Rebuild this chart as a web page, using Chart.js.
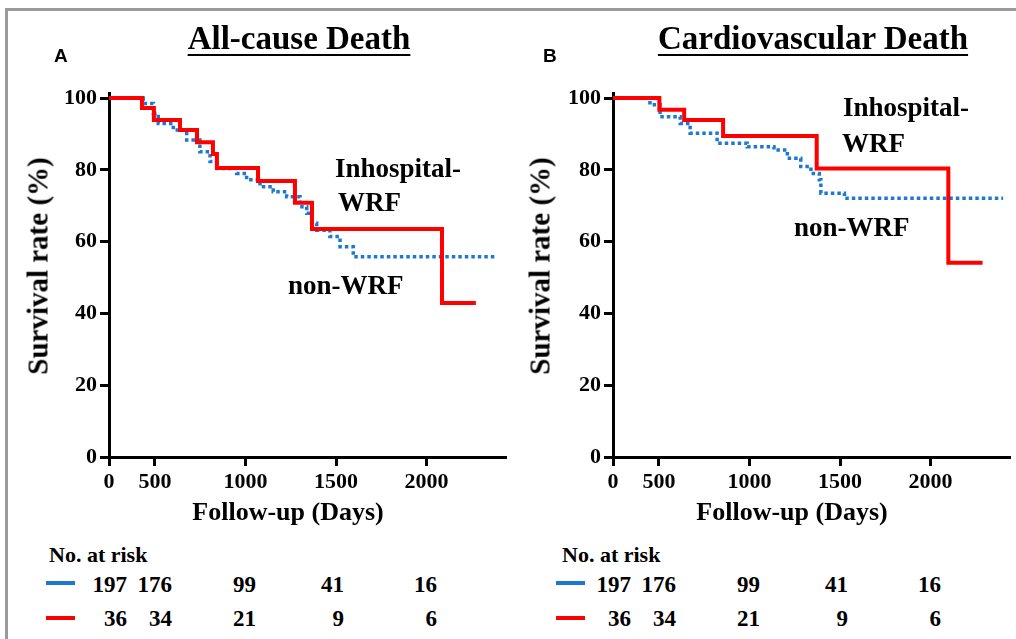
<!doctype html>
<html lang="en">
<head>
<meta charset="utf-8">
<title>All-cause and Cardiovascular Death</title>
<script src="https://cdn.jsdelivr.net/npm/chart.js"></script>
<style>
  body { margin: 0; background: #fff; }
  #page { position: relative; width: 1016px; height: 639px; overflow: hidden;
          font-family: "Liberation Serif", "Times New Roman", serif; font-weight: bold; color: #000; }
  #frame { position: absolute; left: 5px; top: 8px; right: -10px; bottom: -10px;
           border-top: 3px solid #9a9a9a; border-left: 3px solid #9a9a9a; }
  .lbl { position: absolute; white-space: nowrap; line-height: 1; }
  .mark { position: absolute; width: 29px; height: 4px; }
  canvas { position: absolute; top: 0; }
</style>
</head>
<body>
<div id="page">
  <div id="frame"></div>
  <canvas id="chartA" width="508" height="520" style="left:0"></canvas>
  <canvas id="chartB" width="508" height="520" style="left:504px"></canvas>
</div>

<script>
  // Kaplan-Meier steps (day of drop, survival % after it)
  const allRedDays  = [0, 428, 494, 638, 732, 820, 842, 1069, 1273, 1367, 2085, 2272];
  const allRedSurv  = [100, 97.2, 93.9, 91.1, 87.7, 84.4, 80.5, 76.9, 70.8, 63.5, 42.9, 42.9];
  const allBlueDays = [0, 435, 491, 518, 601, 675, 748, 804, 841, 951, 1006, 1080, 1153, 1227, 1301, 1338, 1365, 1393, 1466, 1522, 1595, 2377];
  const allBlueSurv = [100, 98.5, 95.7, 92.9, 91.1, 88.3, 85.0, 82.3, 80.4, 79.0, 77.2, 75.3, 73.9, 72.5, 69.7, 67.9, 65.1, 63.2, 61.4, 58.6, 55.8, 55.8];

  const cvRedDays  = [0, 502, 639, 854, 1371, 2098, 2287];
  const cvRedSurv  = [100, 96.7, 93.9, 89.4, 80.4, 54.1, 54.1];
  const cvBlueDays = [0, 450, 506, 617, 672, 821, 987, 1135, 1209, 1283, 1339, 1385, 1394, 1524, 2400];
  const cvBlueSurv = [100, 98.1, 94.8, 92.9, 90.2, 87.4, 86.4, 85.5, 83.2, 80.9, 79.0, 77.2, 73.5, 72.1, 72.1];

  const xTicks = [0, 500, 1000, 1500, 2000];
  const yTicks = [0, 20, 40, 60, 80, 100];

  const riskBlue = [197, 176, 99, 41, 16];
  const riskRed  = [36, 34, 21, 9, 6];

  // the axis in the figure starts a little after day 0 but labels that point "0"
  const X_MIN = 246, X_MAX = 2433;
  const RED = '#ff0000', BLUE = '#1e78d2';
  const tickFont = { family: 'Liberation Serif', size: 22, weight: 'bold' };

  function pts(days, surv) {
    return days.map((d, i) => ({ x: d, y: surv[i] }));
  }

  function makePanel(id, redDays, redSurv, blueDays, blueSurv) {
    const axisLines = { color: '#000', lineWidth: 3, drawOnChartArea: false, drawTicks: true, tickLength: 9, tickWidth: 3 };
    return new Chart(document.getElementById(id), {
      type: 'line',
      data: {
        datasets: [
          { data: pts(redDays, redSurv), borderColor: RED, borderWidth: 4, stepped: true, clip: 0, fill: false },
          { data: pts(blueDays, blueSurv), borderColor: BLUE, borderWidth: 3.5, borderDash: [3.5, 3], stepped: true, clip: 0, fill: false }
        ]
      },
      options: {
        responsive: false,
        animation: false,
        layout: { autoPadding: false, padding: { left: 0, top: 93, right: 3, bottom: 0 } },
        elements: { point: { radius: 0 } },
        plugins: { legend: { display: false }, tooltip: { enabled: false } },
        scales: {
          x: {
            type: 'linear', min: X_MIN, max: X_MAX,
            afterBuildTicks: s => { s.ticks = xTicks.map(v => ({ value: v === 0 ? X_MIN : v })); },
            afterFit: s => { s.height = 63; },
            ticks: { font: tickFont, color: '#000', padding: 3, maxRotation: 0, autoSkip: false,
                     callback: v => v === X_MIN ? '0' : String(v) },
            grid: axisLines,
            border: { color: '#000', width: 3 }
          },
          y: {
            min: 0, max: 101.4,
            afterBuildTicks: s => { s.ticks = yTicks.map(v => ({ value: v })); },
            afterFit: s => { s.width = 109; },
            ticks: { font: tickFont, color: '#000', padding: 3 },
            grid: axisLines,
            border: { color: '#000', width: 3 }
          }
        }
      }
    });
  }

  makePanel('chartA', allRedDays, allRedSurv, allBlueDays, allBlueSurv);
  makePanel('chartB', cvRedDays, cvRedSurv, cvBlueDays, cvBlueSurv);

  // text
  const page = document.getElementById('page');
  function label(text, x, base, size, align, extra) {
    const el = document.createElement('div');
    el.className = 'lbl';
    el.textContent = text;
    el.style.fontSize = size + 'px';
    el.style.top = (base - 0.8375 * size) + 'px';
    el.style.left = x + 'px';
    if (align === 'center') el.style.transform = 'translateX(-50%)';
    if (align === 'right') el.style.transform = 'translateX(-100%)';
    if (extra) Object.assign(el.style, extra);
    page.appendChild(el);
    return el;
  }
  function yTitle(cx, cy) {
    const el = label('Survival rate (%)', cx, 0, 29);
    el.style.top = cy + 'px';
    el.style.transform = 'translate(-50%, -50%) rotate(-90deg)';
  }
  const underline = { textDecoration: 'underline', textDecorationThickness: '2px', textUnderlineOffset: '5px' };
  const sans = { fontFamily: '"Liberation Sans", Arial, sans-serif' };

  label('A', 54, 62, 19, 'left', sans);
  label('B', 543, 62, 19, 'left', sans);
  label('All-cause Death', 299, 50, 33, 'center', underline);
  label('Cardiovascular Death', 813, 50, 33, 'center', underline);

  yTitle(38, 266);
  yTitle(540, 266);
  label('Follow-up (Days)', 288, 521, 26, 'center');
  label('Follow-up (Days)', 792, 521, 26, 'center');

  label('Inhospital-', 335, 178, 27);
  label('WRF', 338, 212, 27);
  label('non-WRF', 288, 295, 27);
  label('Inhospital-', 843, 117, 27);
  label('WRF', 842, 153, 27);
  label('non-WRF', 794, 237, 27);

  // number at risk tables
  const colRight = [127, 172, 256, 344, 437];
  function riskTable(dx, titleX, markX) {
    label('No. at risk', titleX, 562, 22);
    const mb = document.createElement('div');
    mb.className = 'mark'; mb.style.left = markX + 'px'; mb.style.top = '581px'; mb.style.background = BLUE;
    const mr = document.createElement('div');
    mr.className = 'mark'; mr.style.left = markX + 'px'; mr.style.top = '616px'; mr.style.background = RED;
    page.appendChild(mb); page.appendChild(mr);
    riskBlue.forEach((n, i) => label(String(n), colRight[i] + dx, 592, 23, 'right'));
    riskRed.forEach((n, i) => label(String(n), colRight[i] + dx, 626, 23, 'right'));
  }
  riskTable(0, 49, 46);
  riskTable(504, 562, 556);
</script>
</body>
</html>
